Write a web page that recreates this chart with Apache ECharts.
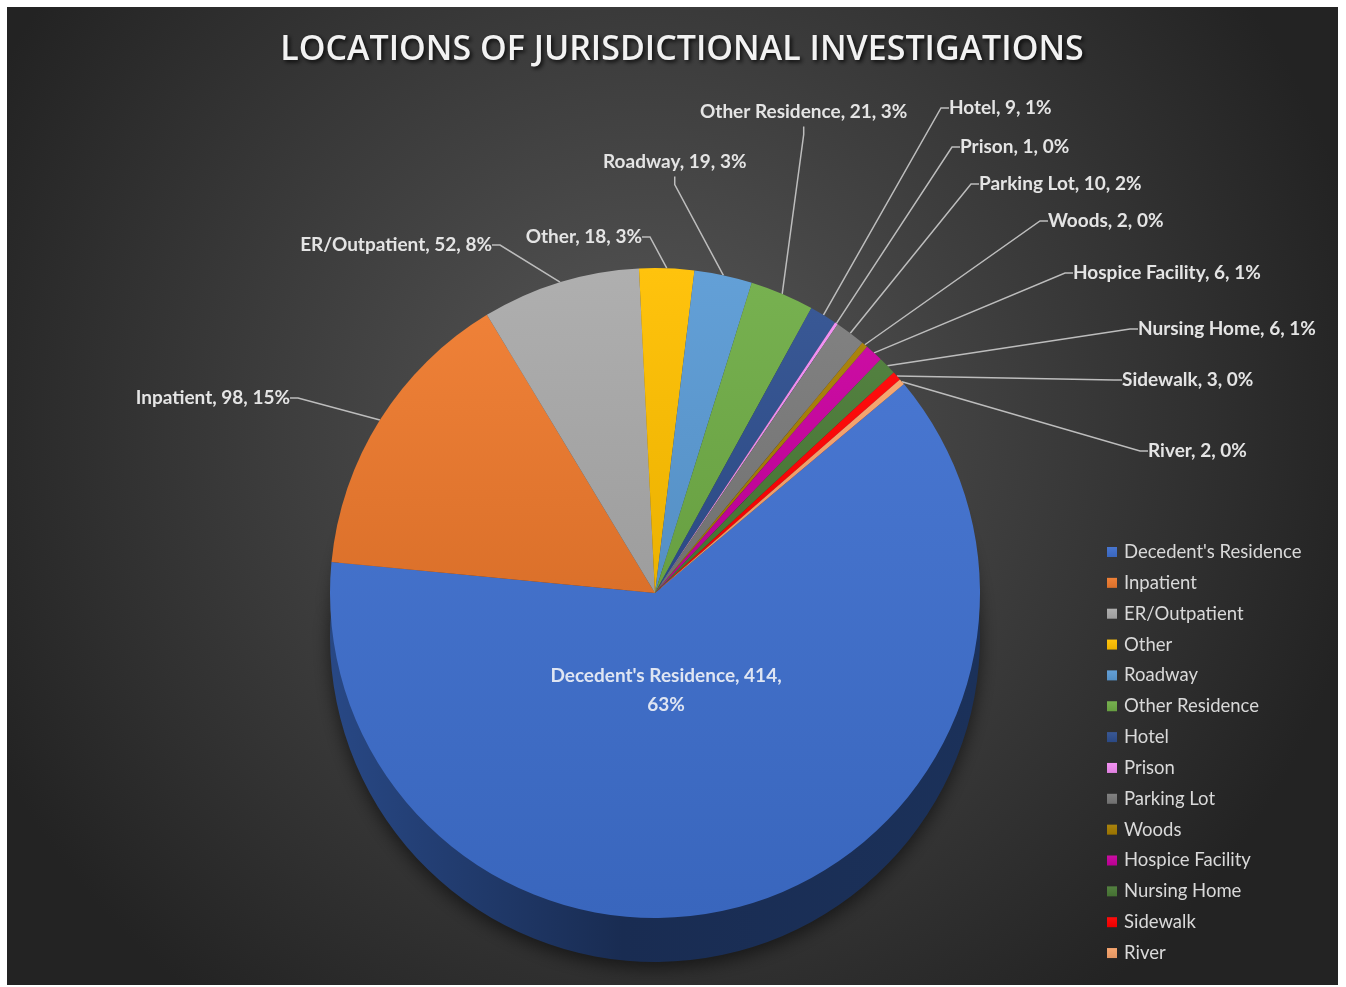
<!DOCTYPE html>
<html>
<head>
<meta charset="utf-8">
<script src="https://cdn.jsdelivr.net/npm/echarts@6/dist/echarts.min.js"></script>
<style>
html,body{margin:0;padding:0;background:#ffffff;}
#chart{position:absolute;left:7px;top:7px;width:1331px;height:978px;}
</style>
</head>
<body>
<div id="chart"></div>
<script>
// ---- data ----
const titleText = 'LOCATIONS OF JURISDICTIONAL INVESTIGATIONS';
const categories = ["Decedent's Residence", 'Inpatient', 'ER/Outpatient', 'Other', 'Roadway', 'Other Residence', 'Hotel', 'Prison', 'Parking Lot', 'Woods', 'Hospice Facility', 'Nursing Home', 'Sidewalk', 'River'];
const counts = [414, 98, 52, 18, 19, 21, 9, 1, 10, 2, 6, 6, 3, 2];

// ---- styles / layout ----
const palette = ['#3E6FCD', '#EE7A2E', '#ABABAB', '#FFC000', '#5B9BD5', '#70AD47', '#2F4F8F', '#F28CF2', '#7A7A7A', '#A67C00', '#C8009E', '#4A7A36', '#FF0000', '#F7A26A'];
// label anchor spots in page pixels: [x, y, align]
const labelSpots = [
  [666, 690, 'center'],
  [290, 398, 'right'],
  [492, 245, 'right'],
  [642, 237, 'right'],
  [603, 162, 'left'],
  [700, 112, 'left'],
  [949, 108, 'left'],
  [960, 147, 'left'],
  [979, 184, 'left'],
  [1048, 221, 'left'],
  [1073, 273, 'left'],
  [1138, 329, 'left'],
  [1122, 380, 'left'],
  [1148, 451, 'left']
];
const OFF = 7;
const CX = 648, CY = 586, R = 325, DEPTH = 44;
const TITLE_CENTER_X = 682;

function hexToRgb(h) {
  h = h.replace('#', '');
  return [parseInt(h.substr(0, 2), 16), parseInt(h.substr(2, 2), 16), parseInt(h.substr(4, 2), 16)];
}
function mix(hex, target, t) {
  const c = hexToRgb(hex);
  const r = c.map((v, i) => Math.round(v + (target[i] - v) * t));
  return 'rgb(' + r.join(',') + ')';
}
const lighten = (h, t) => mix(h, [255, 255, 255], t);
const darken = (h, t) => mix(h, [0, 0, 0], t);

const topData = categories.map((name, i) => {
  const item = {
    name: name,
    value: counts[i],
    itemStyle: {
      color: {
        type: 'linear', x: 0, y: 0, x2: 0, y2: 1,
        colorStops: [
          { offset: 0, color: lighten(palette[i], 0.05) },
          { offset: 1, color: darken(palette[i], 0.08) }
        ]
      }
    }
  };
  if (i === 0) {
    item.label = { color: '#dfe5f2' };
    item.labelLine = { show: false };
  }
  return item;
});

const sideData = categories.map((name, i) => ({
  name: name,
  value: counts[i],
  itemStyle: {
    color: {
      type: 'linear', x: 0, y: 0, x2: 1, y2: 0,
      colorStops: [
        { offset: 0, color: darken(palette[i], 0.35) },
        { offset: 0.45, color: darken(palette[i], 0.6) },
        { offset: 1, color: darken(palette[i], 0.56) }
      ]
    }
  }
}));

const chart = echarts.init(document.getElementById('chart'), null, { renderer: 'canvas' });

const option = {
  animation: false,
  backgroundColor: {
    type: 'radial', x: 0.48, y: 0.42, r: 0.75,
    colorStops: [
      { offset: 0, color: '#575757' },
      { offset: 1, color: '#232323' }
    ]
  },
  title: {
    text: titleText,
    left: TITLE_CENTER_X - OFF - 5,
    top: 21,
    padding: 5,
    textAlign: 'center',
    textStyle: {
      color: '#f2f2f2',
      fontFamily: 'Open Sans',
      fontWeight: 600,
      fontSize: 34,
      textShadowColor: 'rgba(0,0,0,0.85)',
      textShadowBlur: 4,
      textShadowOffsetX: 2,
      textShadowOffsetY: 2
    }
  },
  legend: {
    orient: 'vertical',
    left: 1102 - OFF,
    top: 530,
    data: categories,
    icon: 'rect',
    itemWidth: 10,
    itemHeight: 10,
    itemGap: 10.85,
    selectedMode: false,
    textStyle: {
      color: '#d9d9d9',
      fontFamily: 'Lato',
      fontSize: 18.5,
      lineHeight: 20,
      padding: [0, 0, 0, 2]
    }
  },
  series: [
    {
      type: 'pie',
      name: 'top',
      z: 3,
      center: [CX, CY],
      radius: R,
      startAngle: 40,
      clockwise: true,
      avoidLabelOverlap: false,
      percentPrecision: 0,
      data: topData,
      emphasis: { disabled: true },
      itemStyle: { borderWidth: 0 },
      label: {
        show: true,
        color: '#e4e4e4',
        fontFamily: 'Lato',
        fontWeight: 'bold',
        fontSize: 19,
        lineHeight: 29,
        formatter: function (p) {
          if (p.dataIndex === 0) return p.name + ', ' + p.value + ',\n' + Math.round(p.percent) + '%';
          return p.name + ', ' + p.value + ', ' + Math.round(p.percent) + '%';
        }
      },
      labelLine: {
        show: true,
        length: 12,
        length2: 8,
        lineStyle: { color: '#bdbdbd', width: 1.5 }
      },
      labelLayout: function (params) {
        const s = labelSpots[params.dataIndex];
        if (!s) return {};
        return { x: s[0] - OFF, y: s[1] - OFF, align: s[2], verticalAlign: 'middle' };
      }
    },
    {
      type: 'pie',
      name: 'side',
      z: 2,
      silent: true,
      center: [CX, CY + DEPTH],
      radius: R,
      startAngle: 40,
      clockwise: true,
      data: sideData,
      label: { show: false },
      labelLine: { show: false },
      emphasis: { disabled: true },
      itemStyle: {
        borderWidth: 0,
        shadowBlur: 18,
        shadowColor: 'rgba(0,0,0,0.55)',
        shadowOffsetY: 6
      }
    }
  ]
};
chart.setOption(option);
</script>
</body>
</html>
